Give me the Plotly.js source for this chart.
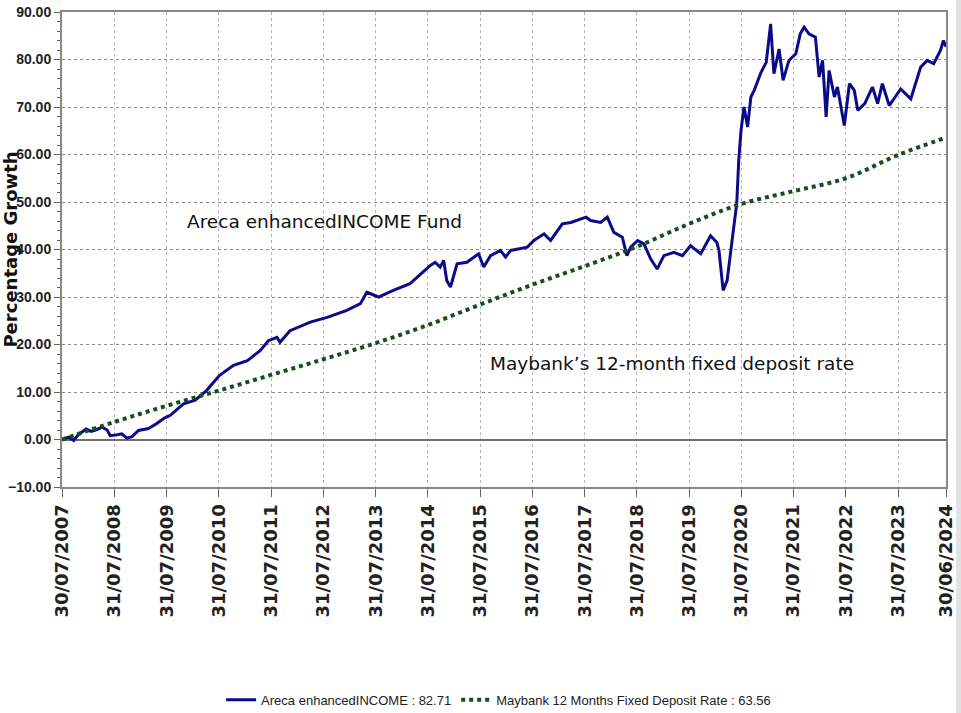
<!DOCTYPE html>
<html>
<head>
<meta charset="utf-8">
<script src="https://cdn.plot.ly/plotly-3.0.1.min.js"></script>
<style>html,body{margin:0;padding:0;background:#fff;}#chart{width:961px;height:713px;}</style>
</head>
<body>
<div id="chart"></div>
<script>
// Areca enhancedINCOME Fund (percentage growth)
var arecaDates = ['2007-07-30','2007-09-15','2007-10-20','2007-11-20','2008-01-15','2008-02-20','2008-03-20','2008-05-05','2008-06-10','2008-07-01','2008-08-20','2008-09-20','2008-10-25','2008-12-01','2009-01-15','2009-03-25','2009-05-20','2009-07-15','2009-08-25','2009-10-15','2009-11-25','2010-02-15','2010-05-05','2010-08-05','2010-11-10','2011-02-15','2011-05-15','2011-07-12','2011-09-10','2011-10-01','2011-12-10','2012-04-30','2012-08-25','2013-01-10','2013-04-15','2013-05-30','2013-08-20','2013-12-01','2014-03-28','2014-08-15','2014-09-20','2014-10-25','2014-11-18','2014-12-10','2015-01-05','2015-02-20','2015-04-30','2015-07-20','2015-08-25','2015-10-12','2015-12-20','2016-01-25','2016-03-01','2016-06-25','2016-08-10','2016-10-20','2016-12-05','2017-02-25','2017-04-25','2017-08-10','2017-09-10','2017-11-20','2018-01-05','2018-02-20','2018-04-20','2018-05-22','2018-06-18','2018-08-05','2018-09-18','2018-11-05','2018-12-20','2019-02-05','2019-04-15','2019-06-15','2019-08-10','2019-10-20','2019-12-28','2020-02-10','2020-02-25','2020-03-25','2020-04-22','2020-06-10','2020-06-28','2020-07-12','2020-07-28','2020-08-18','2020-09-12','2020-10-05','2020-10-28','2020-12-15','2021-01-20','2021-02-20','2021-03-15','2021-04-20','2021-05-18','2021-06-28','2021-08-15','2021-09-15','2021-10-12','2021-11-15','2021-12-30','2022-01-25','2022-02-18','2022-03-15','2022-04-05','2022-05-12','2022-06-02','2022-07-20','2022-08-25','2022-09-28','2022-10-22','2022-12-10','2023-02-02','2023-03-10','2023-04-12','2023-05-30','2023-08-18','2023-10-28','2024-01-05','2024-02-20','2024-04-05','2024-05-22','2024-06-12','2024-06-30'];
var arecaValues = [0.0,0.5,-0.2,1.0,2.2,1.7,2.0,2.6,2.0,0.8,1.0,1.2,0.3,0.6,1.9,2.3,3.3,4.5,5.1,6.5,7.5,8.3,10.3,13.5,15.6,16.6,18.7,20.8,21.5,20.5,22.9,24.7,25.7,27.2,28.6,31.0,30.0,31.4,32.8,36.6,37.3,36.3,37.7,33.5,32.1,37.0,37.3,39.1,36.3,38.7,39.8,38.4,39.8,40.5,41.9,43.3,41.9,45.4,45.7,46.8,46.1,45.7,46.8,43.6,42.6,38.7,40.5,41.9,41.2,38.0,35.9,38.7,39.4,38.7,40.8,39.1,42.9,41.5,39.8,31.4,33.5,45.4,49.6,58.7,65.1,70.0,65.8,72.1,73.5,77.3,79.4,87.5,77.0,82.2,75.6,79.8,81.2,85.4,86.8,85.4,84.7,76.3,79.8,67.9,77.7,72.1,74.2,66.1,74.9,73.5,69.3,70.7,74.2,70.7,74.9,70.3,73.8,71.7,78.4,79.8,79.1,81.9,84.0,82.71];

// Maybank 12 Months Fixed Deposit Rate (cumulative growth)
var fdDates = ['2007-07-30','2008-07-31','2009-07-31','2010-07-31','2011-07-31','2012-07-31','2013-07-31','2014-07-31','2015-07-31','2016-07-31','2017-07-31','2018-07-31','2019-07-31','2020-07-31','2021-07-31','2022-07-31','2023-07-31','2024-06-30'];
var fdValues = [0.0,3.7,7.1,10.3,13.6,16.9,20.3,24.1,28.4,32.6,36.5,40.6,45.4,49.6,52.3,55.0,59.9,63.56];

var tickDates = ['2007-07-30','2008-07-31','2009-07-31','2010-07-31','2011-07-31','2012-07-31','2013-07-31','2014-07-31','2015-07-31','2016-07-31','2017-07-31','2018-07-31','2019-07-31','2020-07-31','2021-07-31','2022-07-31','2023-07-31','2024-06-30'];
var tickLabels = ['30/07/2007','31/07/2008','31/07/2009','31/07/2010','31/07/2011','31/07/2012','31/07/2013','31/07/2014','31/07/2015','31/07/2016','31/07/2017','31/07/2018','31/07/2019','31/07/2020','31/07/2021','31/07/2022','31/07/2023','30/06/2024'];

var seriesNames = ['Areca enhancedINCOME : 82.71','Maybank 12 Months Fixed Deposit Rate : 63.56'];

var traces = [
  {x: arecaDates, y: arecaValues, type: 'scatter', mode: 'lines', name: seriesNames[0],
   line: {color: '#0b0b8a', width: 3}},
  {x: fdDates, y: fdValues, type: 'scatter', mode: 'lines', name: seriesNames[1],
   line: {color: '#14501a', width: 4, dash: 'dot', shape: 'spline'}}
];

var layout = {
  width: 961, height: 713,
  margin: {l: 62, r: 15, t: 12, b: 226, autoexpand: false},
  paper_bgcolor: '#ffffff', plot_bgcolor: '#ffffff',
  showlegend: true,
  legend: {orientation: 'h', x: 0.18, xanchor: 'left', y: -0.448, yanchor: 'middle',
           font: {family: 'Liberation Sans, Arial, sans-serif', size: 13, color: '#222'},
           traceorder: 'normal', itemwidth: 30},
  xaxis: {
    type: 'date', range: ['2007-07-30','2024-06-30'],
    tickmode: 'array', tickvals: tickDates, ticktext: tickLabels, tickangle: -90,
    tickfont: {family: 'DejaVu Sans, Verdana, sans-serif', size: 18, color: '#222', weight: 'bold'},
    ticks: 'outside', ticklen: 8, tickcolor: '#666', automargin: false,
    showgrid: true, gridcolor: '#b5b5b5', griddash: 'dot', gridwidth: 1,
    showline: true, linecolor: '#888', linewidth: 2, mirror: true, zeroline: false
  },
  yaxis: {
    range: [-10, 90], dtick: 10, tick0: 0, tickformat: '.2f',
    tickfont: {family: 'Liberation Sans, Arial, sans-serif', size: 14, color: '#222', weight: 'bold'},
    ticks: 'outside', ticklen: 6, tickcolor: '#666', automargin: false,
    minor: {dtick: 2, ticks: 'outside', ticklen: 3, tickcolor: '#666', showgrid: false},
    showgrid: true, gridcolor: '#8a8a8a', griddash: 'dot', gridwidth: 1,
    zeroline: true, zerolinecolor: '#707070', zerolinewidth: 2,
    showline: true, linecolor: '#888', linewidth: 2, mirror: true,
    title: {text: 'Percentage Growth', standoff: 4,
            font: {family: 'DejaVu Sans, Verdana, sans-serif', size: 18, color: '#111', weight: 'bold'}}
  },
  annotations: [
    {xref: 'paper', yref: 'paper', x: 0.2964, y: 0.558, xanchor: 'center', yanchor: 'middle',
     text: 'Areca enhancedINCOME Fund',
     showarrow: false, font: {family: 'DejaVu Sans, Verdana, sans-serif', size: 18.5, color: '#111'}},
    {xref: 'paper', yref: 'paper', x: 0.690, y: 0.259, xanchor: 'center', yanchor: 'middle',
     text: 'Maybank’s 12-month fixed deposit rate',
     showarrow: false, font: {family: 'DejaVu Sans, Verdana, sans-serif', size: 18.5, color: '#111'}}
  ],
  shapes: [
    {type: 'rect', xref: 'paper', yref: 'paper', x0: 1.0115, x1: 1.02, y0: -0.6, y1: 1.03,
     fillcolor: '#e2e2e2', line: {width: 0}, layer: 'above'}
  ]
};

Plotly.newPlot('chart', traces, layout, {displayModeBar: false, staticPlot: true});
</script>
</body>
</html>
